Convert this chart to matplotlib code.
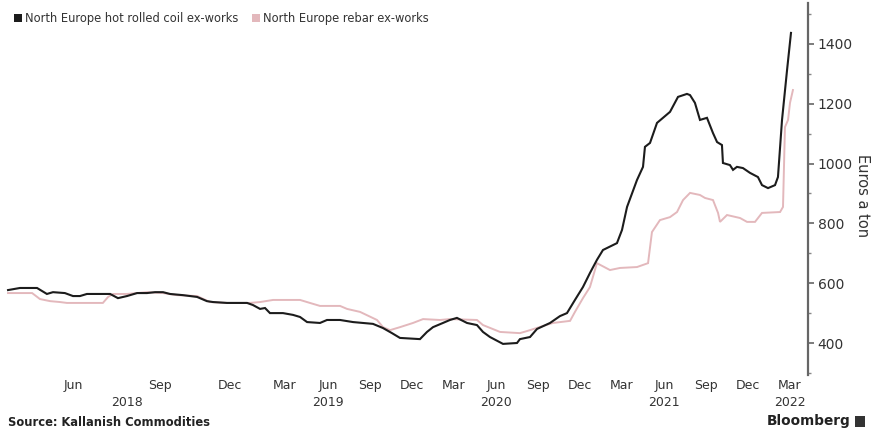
import numpy as np
import matplotlib
matplotlib.use("Agg")
import matplotlib.pyplot as plt
from matplotlib.patches import Patch, Rectangle
import matplotlib.transforms as mtransforms

# ---- data (x = months since Jan 2018) ----
hrc_month = [2.76, 3.17, 3.76, 4.10, 4.31, 4.72, 5.0, 5.24, 5.48, 6.28,
             6.55, 6.86, 7.21, 7.55, 7.83, 8.13, 8.43, 8.99, 9.59, 10.01,
             10.27, 10.87, 11.93, 12.25, 12.64, 12.91, 13.18, 13.89, 14.56, 15.05,
             15.54, 16.44, 16.93, 17.86, 18.79, 20.21, 20.93, 21.57, 22.14, 23.57,
             24.07, 24.5, 25.21, 25.71, 26.21, 26.93, 27.64, 28.07, 28.57, 29.5,
             30.5, 30.71, 31.43, 31.93, 32.86, 33.57, 34.07, 34.64, 35.21, 35.71,
             36.21, 36.64, 37.64, 38.0, 38.36, 39.07, 39.5, 39.64, 40.0, 40.5,
             41.43, 42.0, 42.64, 42.86, 43.21, 43.57, 44.07, 44.5, 44.79, 45.14,
             45.21, 45.71, 45.93, 46.21, 46.64, 47.14, 47.71, 48.0, 48.43, 48.93,
             49.14, 49.43, 49.79, 50.07]
hrc_value = [577, 584, 584, 564, 570, 567, 557, 557, 564, 564,
             550, 557, 567, 567, 570, 570, 564, 560, 554, 540,
             537, 534, 534, 527, 514, 517, 500, 500, 494, 487,
             470, 467, 477, 477, 470, 464, 450, 433, 417, 413,
             437, 453, 467, 477, 484, 467, 460, 437, 420, 397,
             400, 413, 420, 447, 467, 490, 500, 544, 587, 634,
             678, 711, 734, 778, 855, 945, 989, 1056, 1069, 1136,
             1173, 1223, 1233, 1229, 1203, 1146, 1153, 1102, 1072, 1062,
             1002, 995, 979, 989, 985, 969, 955, 928, 918, 928,
             955, 1146, 1313, 1437]

rebar_month = [2.76, 3.59, 3.86, 4.21, 4.55, 4.79, 6.03, 6.21, 6.38, 6.86,
               7.55, 8.13, 8.73, 9.59, 10.14, 10.87, 12.09, 12.64, 13.35, 15.05,
               15.74, 16.44, 17.86, 18.36, 19.29, 20.5, 20.93, 21.43, 22.14, 23.07,
               23.79, 25.0, 25.71, 27.64, 28.07, 29.29, 30.71, 31.43, 32.36, 33.07,
               34.29, 34.64, 35.21, 35.71, 36.21, 37.14, 37.86, 39.07, 39.86, 40.14,
               40.71, 41.43, 41.93, 42.36, 42.86, 43.57, 43.93, 44.5, 44.86, 45.0,
               45.5, 46.43, 46.93, 47.5, 48.0, 49.29, 49.5, 49.64, 49.86, 50.0,
               50.21]
rebar_value = [567, 567, 547, 540, 537, 534, 534, 554, 564, 564,
               570, 567, 560, 557, 537, 534, 534, 537, 544, 544,
               534, 524, 524, 514, 504, 477, 453, 443, 453, 467,
               480, 477, 480, 477, 460, 437, 433, 443, 457, 467,
               474, 504, 550, 587, 667, 644, 651, 654, 667, 771,
               811, 821, 838, 878, 902, 895, 885, 878, 835, 805,
               828, 818, 805, 805, 835, 838, 855, 1122, 1146, 1203,
               1246]

tick_months = [5, 8, 11, 14, 17, 20, 23, 26, 29, 32, 35, 38, 41, 44, 47, 50]
tick_labels = ["Jun", "Sep", "Dec", "Mar", "Jun", "Sep", "Dec", "Mar",
               "Jun", "Sep", "Dec", "Mar", "Jun", "Sep", "Dec", "Mar"]
year_months = [6.86, 17, 29, 41, 50]
year_labels = ["2018", "2019", "2020", "2021", "2022"]

series_names = ["North Europe hot rolled coil ex-works", "North Europe rebar ex-works"]
y_ticks = [400, 600, 800, 1000, 1200, 1400]

# ---- non-uniform time axis (as in the original graphic) ----
warp_m = np.array([0, 5, 8, 11, 14, 17, 55], dtype=float)
warp_p = np.array([-72, 73, 160, 230, 285, 328, 860], dtype=float)

def fwd(m):
    return np.interp(m, warp_m, warp_p)

def inv(p):
    return np.interp(p, warp_p, warp_m)

W, H = 874, 433
fig = plt.figure(figsize=(W / 100, H / 100), dpi=100)
ax = fig.add_axes([5 / W, 1 - 375 / H, (808 - 5) / W, (375 - 3) / H])
ax.set_xscale("function", functions=(fwd, inv))

black = "#1c1c1c"
pink = "#e3b8bc"
ax.plot(rebar_month, rebar_value, color=pink, lw=1.4, solid_joinstyle="miter")
ax.plot(hrc_month, hrc_value, color=black, lw=1.5, solid_joinstyle="miter")

ax.set_xlim(inv(5.0), inv(808.0))
ax.set_ylim(293, 1537)

for s in ["top", "left", "bottom"]:
    ax.spines[s].set_visible(False)
ax.spines["right"].set_color("#666666")
ax.spines["right"].set_linewidth(1.6)

ax.yaxis.tick_right()
ax.set_yticks(y_ticks)
ax.set_yticks(np.arange(300, 1501, 100), minor=True)
ax.tick_params(axis="y", which="major", direction="out", length=4, width=1.2,
               color="#666666", labelsize=10, labelcolor="#333333", pad=3)
ax.tick_params(axis="y", which="minor", direction="out", length=2.5, width=1.0,
               color="#888888")

ax.set_xticks(tick_months)
ax.set_xticklabels(tick_labels)
ax.xaxis.set_minor_locator(matplotlib.ticker.NullLocator())
ax.tick_params(axis="x", which="major", length=0, labelsize=9,
               labelcolor="#333333", pad=3)

trans = mtransforms.blended_transform_factory(ax.transData, fig.transFigure)
for m, lab in zip(year_months, year_labels):
    ax.text(m, 1 - 402 / H, lab, transform=trans, ha="center", va="center",
            fontsize=9, color="#333333")

fig.text(863 / W, 1 - 196 / H, "Euros a ton", rotation=270, ha="center",
         va="center", fontsize=10.5, color="#333333")

handles = [Patch(facecolor=black, edgecolor="none"),
           Patch(facecolor=pink, edgecolor="none")]
fig.legend(handles, series_names, loc="upper left",
           bbox_to_anchor=(8 / W, 1 - 6 / H), ncol=2, frameon=False,
           fontsize=8.3, handlelength=0.7, handleheight=0.7,
           handletextpad=0.25, columnspacing=1.2, borderpad=0,
           labelcolor="#333333")

fig.text(8 / W, 1 - 423 / H, "Source: Kallanish Commodities", ha="left",
         va="center", fontsize=8.3, fontweight="bold", color="#222222")
fig.text(850 / W, 1 - 421 / H, "Bloomberg", ha="right", va="center",
         fontsize=9.8, fontweight="bold", color="#222222")
fig.patches.append(Rectangle((855 / W, 1 - 427 / H), 10 / W, 11 / H,
                             transform=fig.transFigure, facecolor="#333333",
                             edgecolor="none"))

fig.savefig("out.png", dpi=100)
